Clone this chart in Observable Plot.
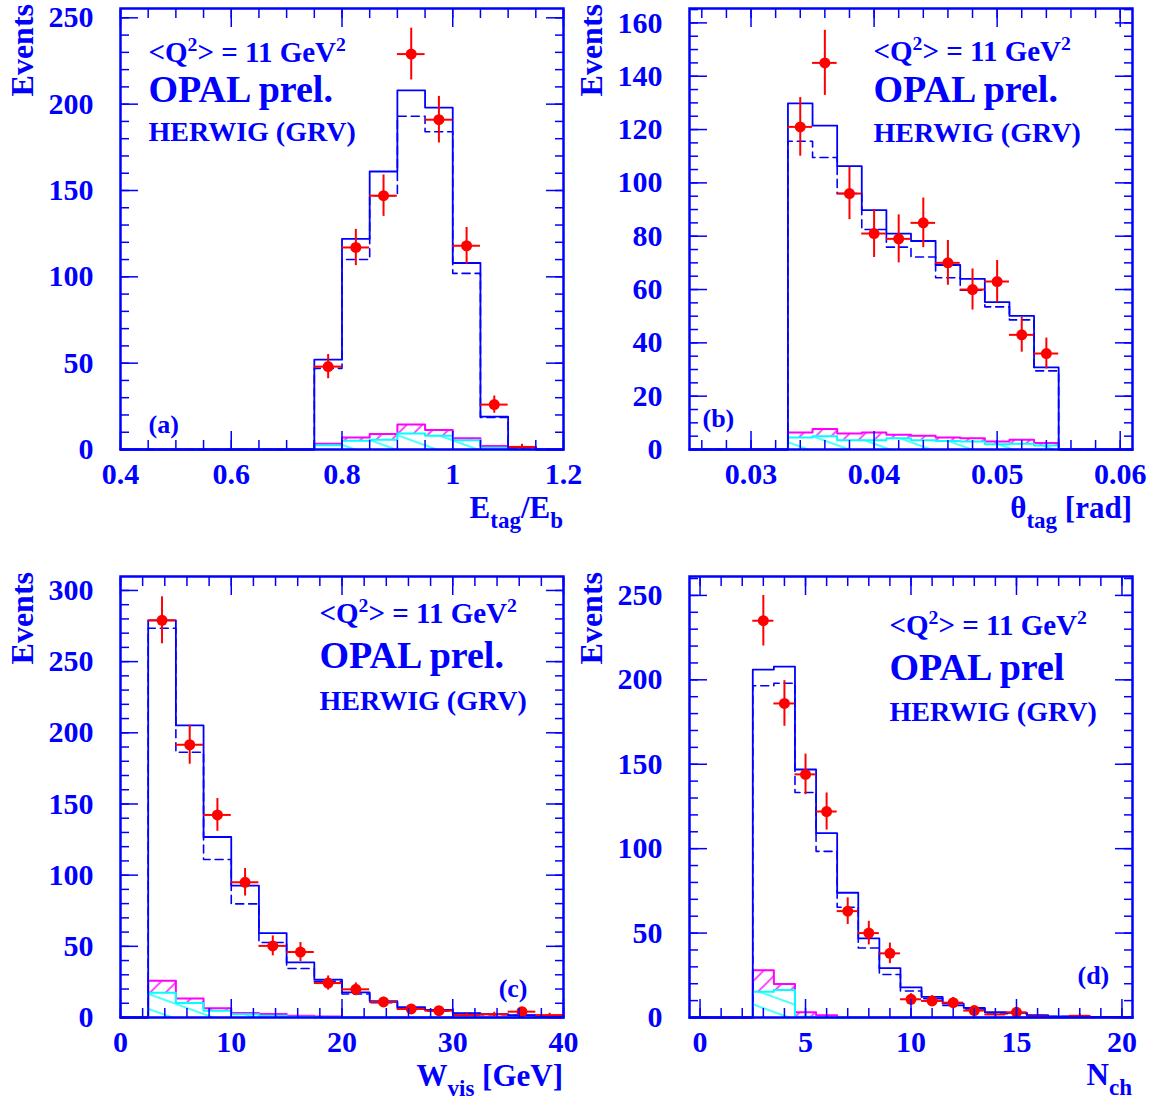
<!DOCTYPE html>
<html><head><meta charset="utf-8">
<script src="https://cdn.jsdelivr.net/npm/d3@7"></script>
<script src="https://cdn.jsdelivr.net/npm/@observablehq/plot@0.6"></script>
<style>
body{margin:0;background:#fff;}
#wrap{position:relative;width:1152px;height:1101px;background:#fff;overflow:hidden;}
#wrap svg{position:absolute;overflow:visible;}
</style></head><body><div id="wrap"></div>
<script>
const BLUE = "#0000ff", RED = "#ff0000", MAG = "#ff00ff", CYAN = "#00ffff";
const FONT = "Liberation Serif";

// ---- Panel (a): E_tag / E_b ----
const aCenters = [0.425,0.475,0.525,0.575,0.625,0.675,0.725,0.775,0.825,0.875,0.925,0.975,1.025,1.075,1.125,1.175];
const aTotal   = [0,0,0,0,0,0,0,52,122,161,208,198,108,19,1.5,0];
const aSignal  = [0,0,0,0,0,0,0,47,110,147,193,184,102,18.5,1,0];
const aBkg     = [0,0,0,0,0,0,0,3.4,7,9,14.5,11.3,6.5,2,1,0];
const aBkgC    = [0,0,0,0,0,0,0,2.4,5,5.6,9.3,8,5.4,1,0,0];
const aData    = [0,0,0,0,0,0,0,48,117,147,229,191,118,26,1.5,0];
const aErr     = [0,0,0,0,0,0,0,7,10.5,12,15,13.5,10.6,5,1.5,0];
const aXMajor  = [0.4,0.6,0.8,1,1.2];
const aYMajor  = [0,50,100,150,200,250];

// ---- Panel (b): theta_tag ----
const bCenters = [0.026,0.028,0.030,0.032,0.034,0.036,0.038,0.040,0.042,0.044,0.046,0.048,0.050,0.052,0.054,0.056,0.058,0.060];
const bTotal   = [0,0,0,0,129.8,121.5,106.3,89.8,81,78.2,69.2,64,55.3,50.1,30.8,0,0,0];
const bSignal  = [0,0,0,0,115.6,109.5,96,82.5,75.9,72.2,64.4,59.7,53.5,48.6,29.5,0,0,0];
const bBkg     = [0,0,0,0,6.4,7.7,6,6.4,5.5,5.2,4.5,4.2,3,3.7,2.4,0,0,0];
const bBkgC    = [0,0,0,0,4.5,5,3.5,3.5,4.2,3.5,3.2,3,2,2.2,1.5,0,0,0];
const bData    = [0,0,0,0,121,145,96,81,79,85,70,60,63,43,36,0,0,0];
const bErr     = [0,0,0,0,11,12.2,9.8,9,9,9.3,8.4,7.7,7.9,6.5,5.8,0,0,0];
const bXMajor  = [0.03,0.04,0.05,0.06];
const bYMajor  = [0,20,40,60,80,100,120,140,160];

// ---- Panel (c): W_vis ----
const cCenters = [1.25,3.75,6.25,8.75,11.25,13.75,16.25,18.75,21.25,23.75,26.25,28.75,31.25,33.75,36.25,38.75];
const cTotal   = [0,279,205.2,126.8,92.7,59.3,38.7,26.6,17.7,11.4,7.3,5.3,3.1,2.4,1.7,1.2];
const cSignal  = [0,273.4,186.3,111,79.8,52.7,34.4,25.4,16.5,10.4,6,4.6,2.7,1.9,1.5,1];
const cBkg     = [0,25.9,13.3,6.5,3.1,2.4,1.2,0.7,0,0,0,0,0,0,0,0];
const cBkgC    = [0,17.4,10.2,4.8,2.2,1.2,0.5,0,0,0,0,0,0,0,0,0];
const cData    = [0,279,191.6,142.3,95,50.3,46,24.2,19.8,10.9,6,4.8,1.7,2.2,4.1,1.7];
const cErr     = [0,16.5,13.7,11.5,9.7,7,6.7,5,4.5,3.3,2.5,2.2,1.3,1.5,2,1.3];
const cXMajor  = [0,10,20,30,40];
const cYMajor  = [0,50,100,150,200,250,300];

// ---- Panel (d): N_ch ----
const dCenters = [0,1,2,3,4,5,6,7,8,9,10,11,12,13,14,15,16,17,18,19,20];
const dTotal   = [0,0,0,206.1,207.8,146.9,109.2,73.9,46.9,29.2,17.8,12.2,8.2,5.7,3.1,2.7,1.4,0.6,0.6,0.4,0.4];
const dSignal  = [0,0,0,196.5,198,133.3,98.4,65.3,41.2,25.5,15.7,11.2,7.1,5.1,2.7,2.2,1.2,0.5,0.5,0.3,0.3];
const dBkg     = [0,0,0,28,19.8,3.1,1.4,0,0,0,0,0,0,0,0,0,0,0,0,0,0];
const dBkgC    = [0,0,0,15.3,16.3,0.4,0,0,0,0,0,0,0,0,0,0,0,0,0,0,0];
const dData    = [0,0,0,235,186,144,122,63,50,38,10.8,9.8,8.8,4.1,1.8,3.1,0.6,0,1,0,0];
const dErr     = [0,0,0,15,13.5,12,11,7.9,7,6.1,3.3,3.1,3,2,1.3,1.7,0.8,0,1,0,0];
const dXMajor  = [0,5,10,15,20];
const dYMajor  = [0,50,100,150,200,250];

const panels = [
  {id:"a", left:0, top:0, width:576, height:550, mL:120, mR:13, mT:8, mB:101,
   xDomain:[0.4,1.2], yMax:255.4, bw:0.05, centers:aCenters, total:aTotal, signal:aSignal, bkg:aBkg, bkgC:aBkgC, data:aData, err:aErr,
   xMajor:aXMajor, xMinor:d3.range(0.4,1.2001,0.05), yMajor:aYMajor, yMinor:d3.range(0,256,10),
   xTitle:[["E"],["tag",1],["/E"],["b",1]], titleBase:69,
   ann:{q:[28,44], opal:[28,81], herwig:[28,124], tag:["(a)",28,416,"start"], opalText:"OPAL prel."}},
  {id:"b", left:576, top:0, width:576, height:550, mL:113, mR:20, mT:8, mB:101,
   xDomain:[0.025,0.061], yMax:165.4, bw:0.002, centers:bCenters, total:bTotal, signal:bSignal, bkg:bBkg, bkgC:bBkgC, data:bData, err:bErr,
   xMajor:bXMajor, xMinor:d3.range(0.026,0.0605,0.002), yMajor:bYMajor, yMinor:d3.range(0,166,5),
   xTitle:[["θ"],["tag",1],[" [rad]"]], titleBase:69,
   ann:{q:[184,43], opal:[184,81], herwig:[184,125], tag:["(b)",13,410,"start"], opalText:"OPAL prel."}},
  {id:"c", left:0, top:560, width:576, height:541, mL:120, mR:13, mT:16, mB:84,
   xDomain:[0,40], yMax:309.8, bw:2.5, centers:cCenters, total:cTotal, signal:cSignal, bkg:cBkg, bkgC:cBkgC, data:cData, err:cErr,
   xMajor:cXMajor, xMinor:d3.range(0,41,2), yMajor:cYMajor, yMinor:d3.range(0,310,10),
   xTitle:[["W"],["vis",1],[" [GeV]"]], titleBase:69,
   ann:{q:[199,37], opal:[199,79], herwig:[199,125], tag:["(c)",407,412,"end"], opalText:"OPAL prel."}},
  {id:"d", left:576, top:560, width:576, height:541, mL:113, mR:20, mT:16, mB:84,
   xDomain:[-0.5,20.5], yMax:261.2, bw:1, centers:dCenters, total:dTotal, signal:dSignal, bkg:dBkg, bkgC:dBkgC, data:dData, err:dErr,
   xMajor:dXMajor, xMinor:d3.range(0,21,1), yMajor:dYMajor, yMinor:d3.range(0,261,10),
   xTitle:[["N"],["ch",1]], titleBase:68,
   ann:{q:[200,49], opal:[200,91], herwig:[200,136], tag:["(d)",388,399,"start"], opalText:"OPAL prel"}}
];

const Q_TEXT = "<Q²> = 11 GeV²";

function stepLine(rows, key) {
  const pts = [{x: rows[0].x1, y: 0}];
  for (const r of rows) { pts.push({x: r.x1, y: r[key]}); pts.push({x: r.x2, y: r[key]}); }
  pts.push({x: rows[rows.length - 1].x2, y: 0});
  return pts;
}

function drawPanel(p) {
  const hw = p.bw / 2;
  const rows = p.centers.map((c, i) => ({
    xc: c, x1: c - hw, x2: c + hw, total: p.total[i], signal: p.signal[i],
    bkg: p.bkg[i], bkgC: p.bkgC[i], data: p.data[i], err: p.err[i]
  }));
  const nz = rows.filter(r => r.data > 0);
  const zero = rows.filter(r => r.data === 0);
  const tickAxes = [];
  for (const anchor of ["left", "right"]) {
    tickAxes.push(Plot.axisY({anchor, ticks: p.yMinor, tickSize: -9, fill: "none", stroke: BLUE, strokeWidth: 1.5, label: null}));
    tickAxes.push(Plot.axisY({anchor, ticks: p.yMajor, tickSize: -18, fill: "none", stroke: BLUE, strokeWidth: 1.5, label: null}));
  }
  for (const anchor of ["bottom", "top"]) {
    tickAxes.push(Plot.axisX({anchor, ticks: p.xMinor, tickSize: -9, fill: "none", stroke: BLUE, strokeWidth: 1.5, label: null}));
    tickAxes.push(Plot.axisX({anchor, ticks: p.xMajor, tickSize: -18, fill: "none", stroke: BLUE, strokeWidth: 1.5, label: null}));
  }
  const annText = (t, pos, size, anchor = "start") => Plot.text([t], {
    text: d => d, frameAnchor: "top-left", dx: pos[0], dy: pos[1], fill: BLUE,
    fontSize: size, fontWeight: "bold", textAnchor: anchor, lineAnchor: "middle"
  });
  const svg = Plot.plot({
    width: p.width, height: p.height,
    marginLeft: p.mL, marginRight: p.mR, marginTop: p.mT, marginBottom: p.mB,
    x: {domain: p.xDomain, axis: null},
    y: {domain: [0, p.yMax], axis: null},
    style: {fontFamily: FONT, background: "none", color: BLUE, overflow: "visible"},
    marks: [
      Plot.rect(rows.filter(r => r.bkgC > 0), {x1: "x1", x2: "x2", y1: 0, y2: "bkgC", fill: `url(#hc${p.id})`}),
      Plot.rect(rows.filter(r => r.bkg > r.bkgC), {x1: "x1", x2: "x2", y1: "bkgC", y2: "bkg", fill: `url(#hm${p.id})`}),
      Plot.line(stepLine(rows, "bkg"), {x: "x", y: "y", stroke: MAG, strokeWidth: 2}),
      Plot.line(stepLine(rows, "bkgC"), {x: "x", y: "y", stroke: CYAN, strokeWidth: 2}),
      Plot.line(stepLine(rows, "signal"), {x: "x", y: "y", stroke: BLUE, strokeWidth: 1.6, strokeDasharray: "8,5"}),
      Plot.line(stepLine(rows, "total"), {x: "x", y: "y", stroke: BLUE, strokeWidth: 1.8}),
      Plot.ruleY(zero, {y: "data", x1: "x1", x2: "x2", stroke: RED, strokeWidth: 1.5, strokeDasharray: "5,7"}),
      Plot.ruleX(nz, {x: "xc", y1: r => Math.max(0, r.data - r.err), y2: r => r.data + r.err, stroke: RED, strokeWidth: 2}),
      Plot.ruleY(nz, {y: "data", x1: "x1", x2: "x2", stroke: RED, strokeWidth: 2}),
      Plot.dot(nz.filter(r => r.data >= 2.5), {x: "xc", y: "data", r: 5.5, fill: RED, stroke: "none"}),
      ...tickAxes,
      Plot.axisY({anchor: "left", ticks: p.yMajor, tickSize: 0, tickPadding: 27, fill: BLUE, fontSize: 30, fontWeight: "bold", tickFormat: d => String(d), label: null}),
      Plot.axisX({anchor: "bottom", ticks: p.xMajor, tickSize: 0, tickPadding: 13, fill: BLUE, fontSize: 30, fontWeight: "bold", tickFormat: d => String(d), label: null}),
      Plot.frame({stroke: BLUE, strokeWidth: 2.5}),
      annText(Q_TEXT, p.ann.q, 29),
      annText(p.ann.opalText, p.ann.opal, 38),
      annText("HERWIG (GRV)", p.ann.herwig, 28),
      annText(p.ann.tag[0], [p.ann.tag[1], p.ann.tag[2]], 26, p.ann.tag[3])
    ]
  });
  const s = d3.select(svg);
  svg.style.left = p.left + "px";
  svg.style.top = p.top + "px";
  svg.style.overflow = "visible";
  svg.style.background = "none";
  const defs = s.insert("defs", ":first-child");
  const pm = defs.append("pattern").attr("id", `hm${p.id}`).attr("patternUnits", "userSpaceOnUse")
    .attr("width", 11).attr("height", 11).attr("patternTransform", "rotate(45)");
  pm.append("line").attr("x1", 5).attr("y1", 0).attr("x2", 5).attr("y2", 11).attr("stroke", MAG).attr("stroke-width", 1.4);
  const pc = defs.append("pattern").attr("id", `hc${p.id}`).attr("patternUnits", "userSpaceOnUse")
    .attr("width", 14).attr("height", 14).attr("patternTransform", "rotate(20)");
  pc.append("line").attr("x1", 0).attr("y1", 7).attr("x2", 14).attr("y2", 7).attr("stroke", CYAN).attr("stroke-width", 1.4);

  // raise the superscripts of the <Q²> annotation
  s.selectAll("text").filter(function() { return this.textContent === Q_TEXT; }).each(function() {
    const el = d3.select(this);
    el.text(null);
    el.append("tspan").text("<Q");
    el.append("tspan").attr("dy", -11).attr("font-size", "0.68em").text("2");
    el.append("tspan").attr("dy", 11).text("> = 11 GeV");
    el.append("tspan").attr("dy", -11).attr("font-size", "0.68em").text("2");
  });

  // axis titles
  const frameRight = p.width - p.mR, frameBottom = p.height - p.mB;
  const t = s.append("text").attr("x", frameRight).attr("y", frameBottom + p.titleBase)
    .attr("text-anchor", "end").attr("fill", BLUE).attr("font-family", FONT)
    .attr("font-weight", "bold").attr("font-size", 31);
  let shifted = false;
  for (const [str, sub] of p.xTitle) {
    const ts = t.append("tspan").text(str);
    if (sub && !shifted) { ts.attr("dy", 10).attr("font-size", 23); shifted = true; }
    else if (sub) { ts.attr("font-size", 23); }
    else if (!sub && shifted) { ts.attr("dy", -10); shifted = false; }
  }
  s.append("text").attr("transform", `translate(${p.mL - 87},${p.mT - 4}) rotate(-90)`)
    .attr("text-anchor", "end").attr("fill", BLUE).attr("font-family", FONT)
    .attr("font-weight", "bold").attr("font-size", 32).text("Events");
  document.getElementById("wrap").appendChild(svg);
}

panels.forEach(drawPanel);
</script>
</body></html>
